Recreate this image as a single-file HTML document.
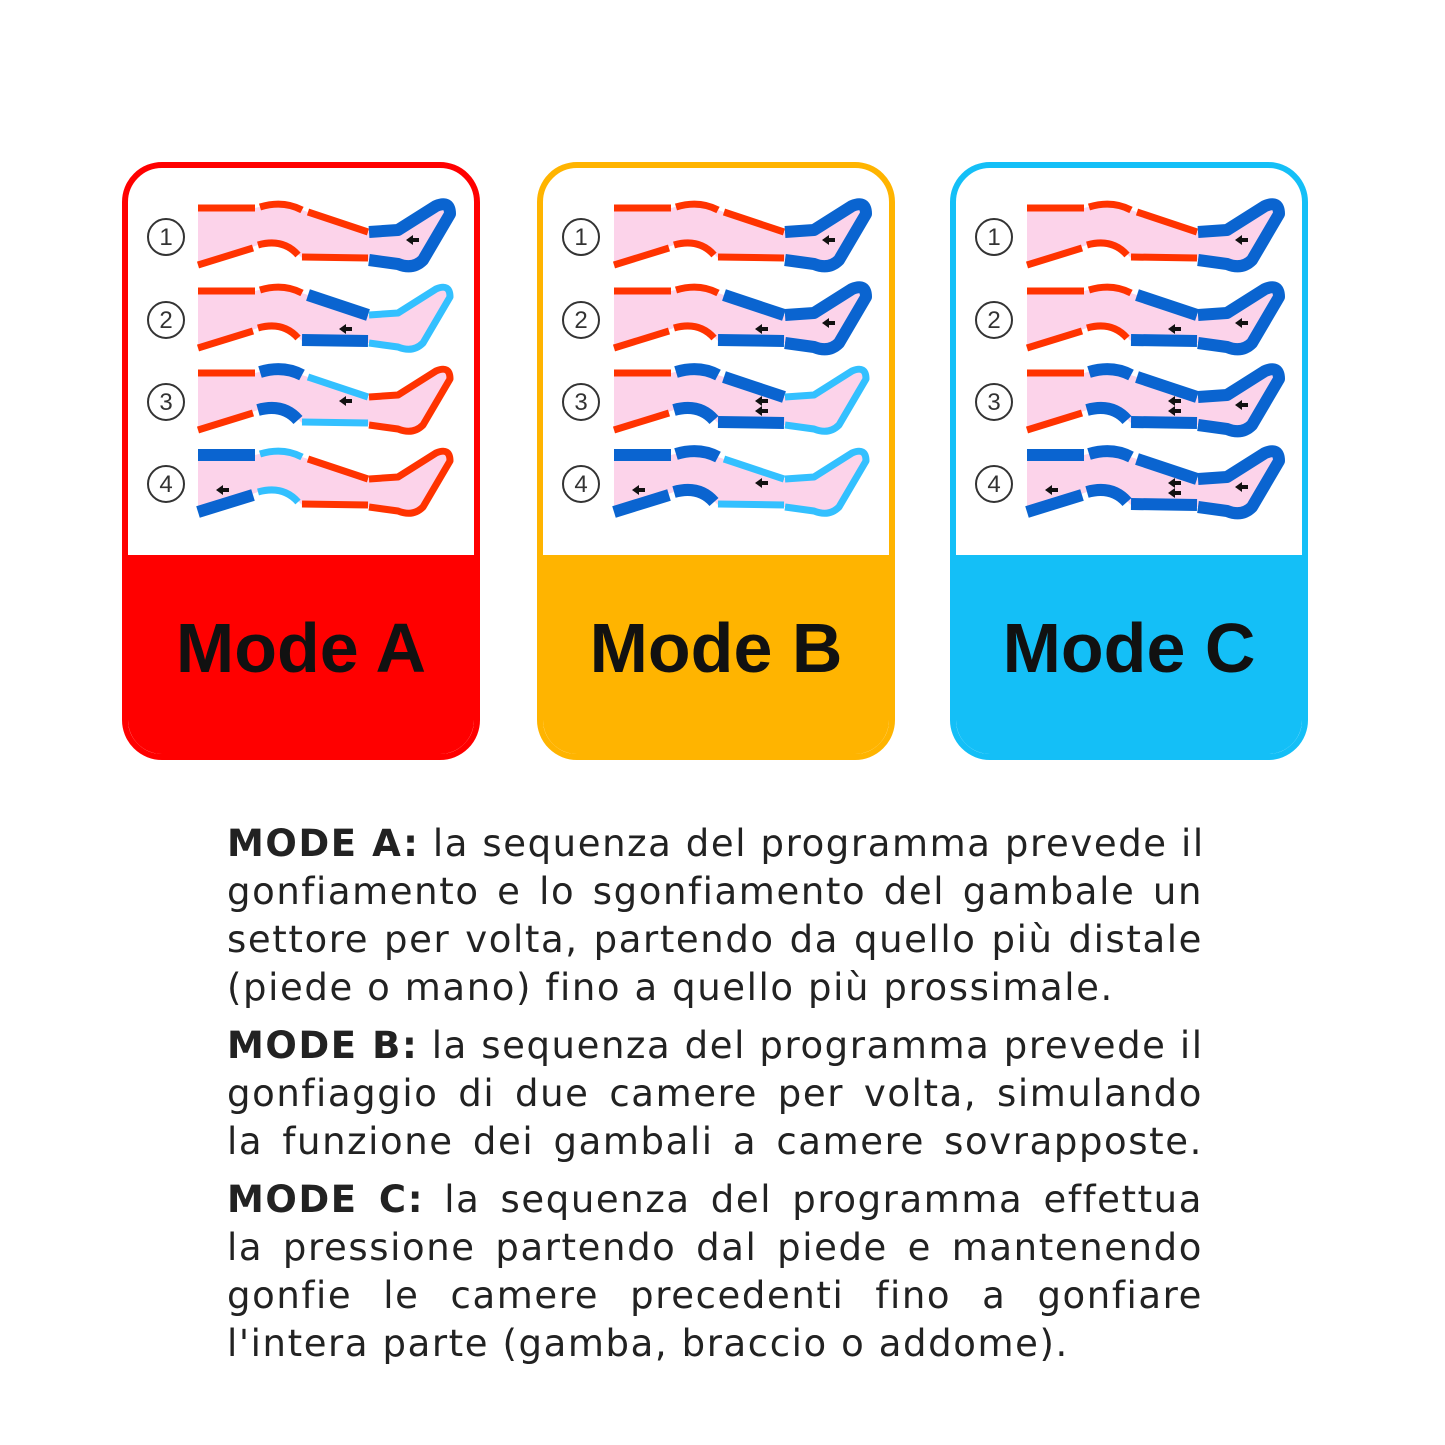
<!DOCTYPE html>
<html><head><meta charset="utf-8">
<style>
body{margin:0;background:#fff;width:1445px;height:1445px;position:relative;overflow:hidden;font-family:"Liberation Sans",sans-serif}
.panel{position:absolute;top:162px;width:346px;height:586px;border:6px solid;border-radius:40px;overflow:hidden;background:#fff}
.panel .bot{position:absolute;left:0;right:0;top:387px;bottom:0;display:flex;align-items:center;justify-content:center;font-weight:bold;font-size:70px;color:#111;padding-bottom:14px;box-sizing:border-box}
.txt{position:absolute;left:227px;width:976px;top:820px;font-size:37px;color:#222;font-family:"DejaVu Sans",sans-serif;letter-spacing:1.6px}
.txt div{height:48px;line-height:48px;text-align:justify;text-align-last:justify;white-space:nowrap}
.txt div.l{text-align-last:left}
.txt .g{height:10px}
svg{position:absolute;left:0;top:0}
</style></head><body>
<div class="panel" style="left:122px;border-color:#ff0000"><div class="bot" style="background:#ff0000">Mode A</div></div>
<div class="panel" style="left:537px;border-color:#ffb400"><div class="bot" style="background:#ffb400">Mode B</div></div>
<div class="panel" style="left:950px;border-color:#14bff7"><div class="bot" style="background:#14bff7">Mode C</div></div>
<svg id="s" width="1445" height="800"></svg>
<div class="txt">
<div><b>MODE A:</b> la sequenza del programma prevede il</div>
<div>gonfiamento e lo sgonfiamento del gambale un</div>
<div>settore per volta, partendo da quello più distale</div>
<div class="l">(piede o mano) fino a quello più prossimale.</div>
<div class="g"></div>
<div><b>MODE B:</b> la sequenza del programma prevede il</div>
<div>gonfiaggio di due camere per volta, simulando</div>
<div>la funzione dei gambali a camere sovrapposte.</div>
<div class="g"></div>
<div><b>MODE C:</b> la sequenza del programma effettua</div>
<div>la pressione partendo dal piede e mantenendo</div>
<div>gonfie le camere precedenti fino a gonfiare</div>
<div class="l">l'intera parte (gamba, braccio o addome).</div>
</div>
<script>
var R="#ff3300",D="#0a64d0",L="#33c0ff";
var modes=[[198,166,[[R,R,R,D],[R,R,D,L],[R,D,L,R],[D,L,R,R]]],
[614,581,[[R,R,R,D],[R,R,D,D],[R,D,D,L],[D,D,L,L]]],
[1027,994,[[R,R,R,D],[R,R,D,D],[R,D,D,D],[D,D,D,D]]]];
var segs=[["M0,8 L57,8","M0,65 L55,48"],["M62,7 Q85,0 104,10","M60,45 Q85,38 100,55"],["M110,12 L170,32","M104,57 L170,58"],["M171,32 L200,30 L238,6 Q252,0 252,14 L225,60 Q215,70 200,64 L171,60"]];
var arr=[[25,43],[148,36],[148,46],[215,40]];
var out="";var rows=[200,283,365,447];
modes.forEach(function(m){
 m[2].forEach(function(c,i){
  var ox=m[0],oy=rows[i];
  out+='<g transform="translate('+ox+','+oy+')">';
  out+='<path d="M0,8 L57,8 Q85,0 104,10 L170,32 L200,30 L238,6 Q252,0 252,14 L225,60 Q215,70 200,64 L171,60 L104,58 Q85,38 60,45 L0,65 Z" fill="#fcd3ea"/>';
  for(var k=0;k<4;k++){var w=c[k]==D?12:7;
   segs[k].forEach(function(p){out+='<path d="'+p+'" fill="none" stroke="'+c[k]+'" stroke-width="'+w+'" stroke-linejoin="round"/>';});
   if(c[k]==D){var a=arr[k];out+='<path d="M'+(a[0]-7)+','+a[1]+' l7,-5 v3 h6 v4 h-6 v3 z" fill="#111"/>';}
  }
  out+='</g>';
  var cy=oy+37;
  out+='<circle cx="'+m[1]+'" cy="'+cy+'" r="18" fill="none" stroke="#333" stroke-width="2"/><text x="'+m[1]+'" y="'+(cy+8)+'" font-size="24" text-anchor="middle" fill="#333" font-family="Liberation Sans">'+(i+1)+'</text>';
 });
});
document.getElementById("s").innerHTML=out;
</script>
</body></html>
